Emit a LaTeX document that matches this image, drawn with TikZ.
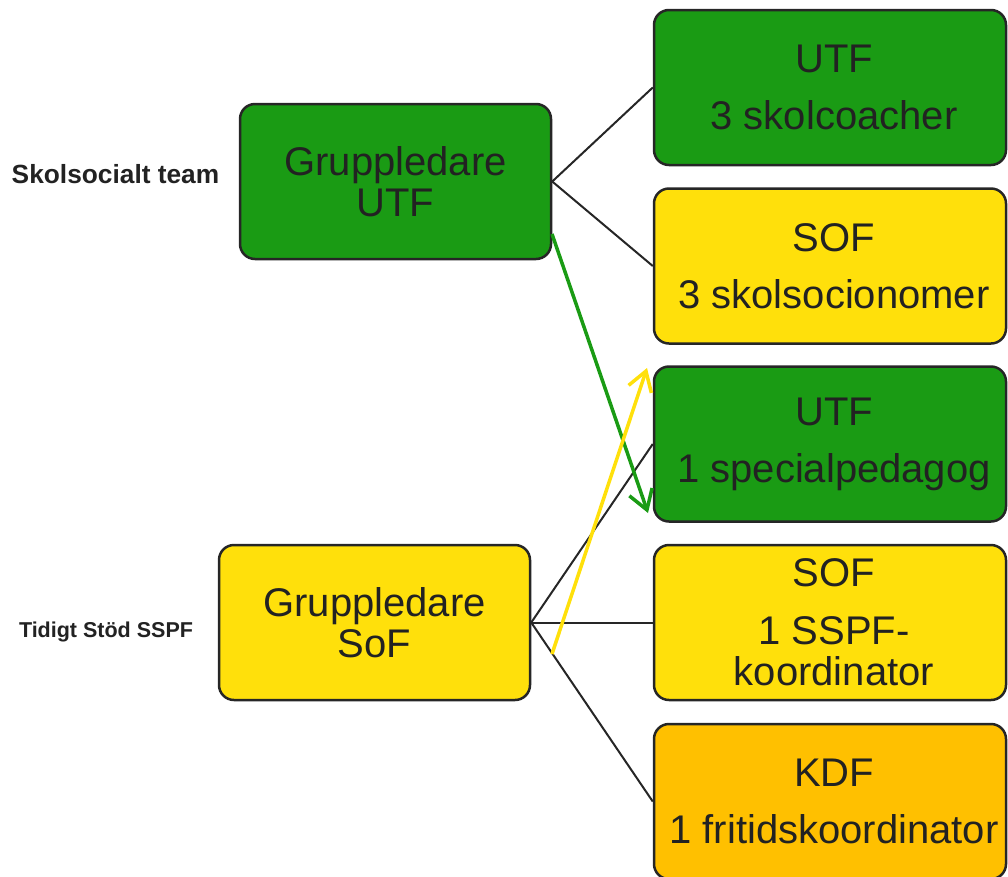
\documentclass[tikz,border=0pt]{standalone}
\usepackage{fontspec}
\setmainfont{Liberation Sans}
\usetikzlibrary{arrows.meta}
\definecolor{boxgreen}{HTML}{1A9B14}
\definecolor{boxyellow}{HTML}{FFE00B}
\definecolor{boxorange}{HTML}{FFC000}
\definecolor{edge}{HTML}{262626}
\definecolor{txt}{HTML}{222222}
\newcommand{\sh}[1]{\hspace*{8pt}#1}
\tikzset{
  box/.style={draw=edge, line width=2.5pt, rounded corners=15pt, minimum height=155pt,
    align=center, text=txt, inner sep=0pt, font=\fontsize{40}{41}\selectfont},
  lbox/.style={box, minimum width=311pt},
  rbox/.style={box, minimum width=352pt},
  conn/.style={draw=edge, line width=2pt},
  arr/.style={line width=3.5pt, -{Straight Barb[length=19pt,width=24pt]}},
  side/.style={text=txt, inner sep=0pt}
}
\begin{document}
\begin{tikzpicture}[x=1pt,y=-1pt]
\useasboundingbox (0,0) rectangle (1008,876);
\node[lbox, fill=boxgreen] (gu) at (395.5,181.5) {Gruppledare\\UTF};
\node[lbox, fill=boxyellow] (gs) at (374.5,622.5) {Gruppledare\\SoF};
\node[rbox, fill=boxgreen] (r1) at (830,87.5) {\sh{UTF}\\[16pt]\sh{3 skolcoacher}};
\node[rbox, fill=boxyellow] (r2) at (830,266) {\sh{SOF}\\[16pt]\sh{3 skolsocionomer}};
\node[rbox, fill=boxgreen] (r3) at (830,444) {\sh{UTF}\\[16pt]\sh{1 specialpedagog}};
\node[rbox, fill=boxyellow] (r4) at (830,622.5) {\sh{SOF}\\[17pt]\sh{1 SSPF-}\\\sh{koordinator}};
\node[rbox, fill=boxorange] (r5) at (830,801.5) {\sh{KDF}\\[16pt]\sh{1 fritidskoordinator}};
\node[side, font=\bfseries\fontsize{26.3}{28}\selectfont] (t1) at (115.5,174) {Skolsocialt team};
\node[side, font=\bfseries\fontsize{21.5}{24}\selectfont] (t2) at (106,632) {Tidigt Stöd SSPF};
\draw[conn] (gu.east) -- (r1.west);
\draw[conn] (gu.east) -- (r2.west);
\draw[conn] (gs.east) -- (r3.west);
\draw[conn] (gs.east) -- (r4.west);
\draw[conn] (gs.east) -- (r5.west);
\coordinate (ga) at (552,234);
\coordinate (gb) at (648,513);
\coordinate (ya) at (552,654);
\coordinate (yb) at (647,368);
\draw[arr, boxgreen] (ga) -- (gb);
\draw[arr, boxyellow] (ya) -- (yb);
\end{tikzpicture}
\end{document}
